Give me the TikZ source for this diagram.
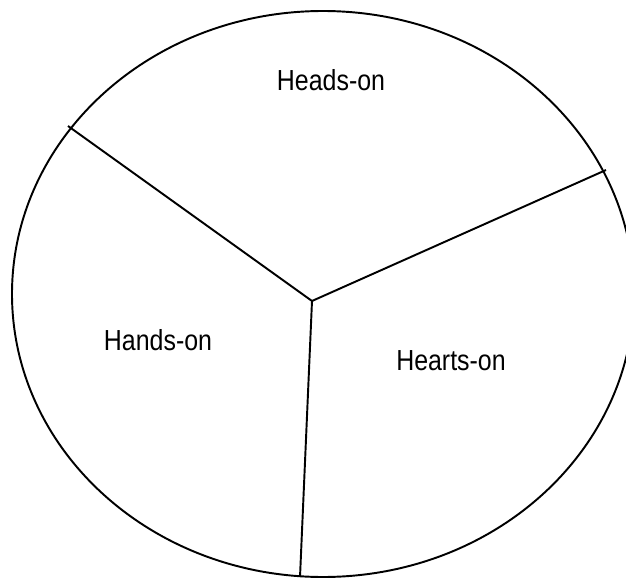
\documentclass[tikz,border=0pt]{standalone}
\usepackage{fontspec}
\setmainfont{Liberation Sans}[FakeStretch=0.86]
\usepackage{tikz}
\tikzset{
  rim/.style={draw=black, line width=1.1pt},
  spoke/.style={draw=black, line width=1.1pt},
  label/.style={font=\fontsize{16.5}{19}\selectfont, inner sep=0pt}
}

\begin{document}
\begin{tikzpicture}[x=0.02cm, y=-0.02cm]
  \useasboundingbox (0,0) rectangle (626,578);
  \clip (0,0) rectangle (626,578);
  % --- Outer ellipse ---
  \draw[rim] (323,294) ellipse [x radius=311, y radius=283];

  % --- Spokes ---
  \coordinate (hub) at (312,301);
  \coordinate (rimleft) at (68,126);
  \coordinate (rimright) at (606,170);
  \coordinate (rimbottom) at (300,577);
  \draw[spoke] (hub) -- (rimleft);
  \draw[spoke] (hub) -- (rimright);
  \draw[spoke] (hub) -- (rimbottom);

  % --- Labels ---
  \node[label] (heads) at (331,80) {Heads-on};
  \node[label] (hands) at (158,340) {Hands-on};
  \node[label] (hearts) at (451,361) {Hearts-on};
\end{tikzpicture}
\end{document}
